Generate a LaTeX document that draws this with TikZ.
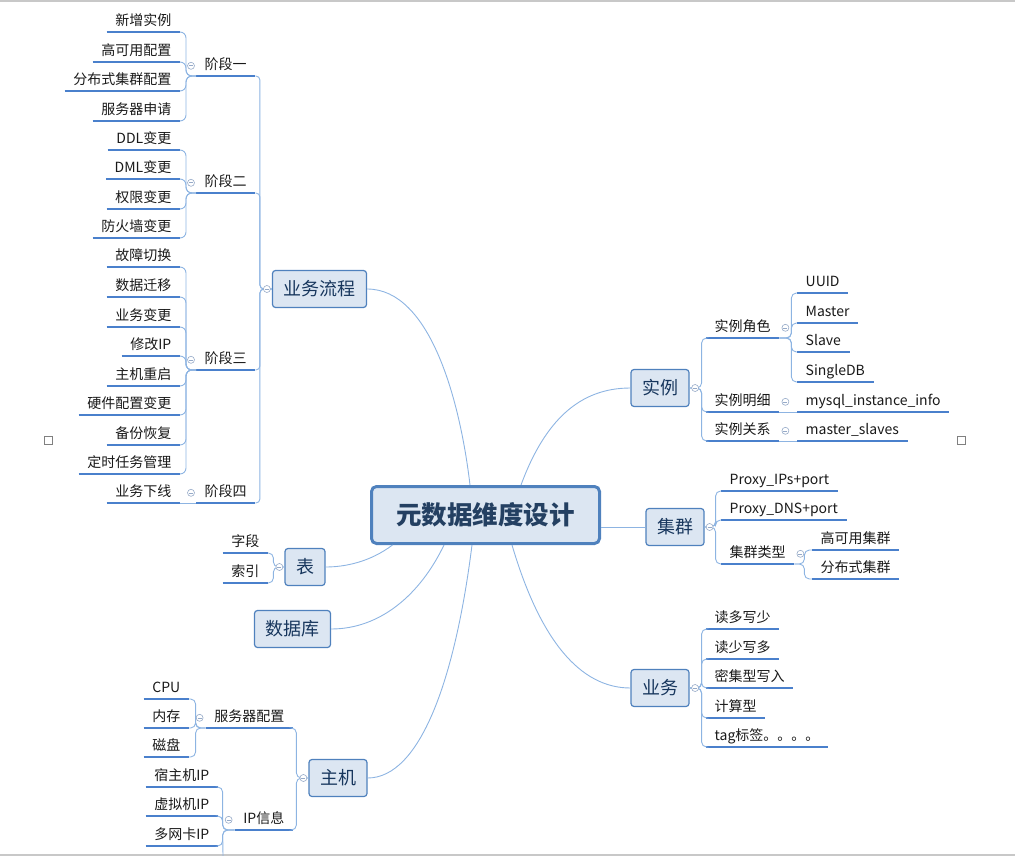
\documentclass[tikz,border=0pt]{standalone}
\usepackage{fontspec}
\setmainfont{Noto Sans CJK SC}
\usepackage{tikz}
\definecolor{color1}{RGB}{79, 129, 189}
\definecolor{color2}{RGB}{220, 230, 242}
\definecolor{color3}{RGB}{74, 128, 204}
\definecolor{color4}{RGB}{141, 180, 226}
\definecolor{color5}{RGB}{36, 64, 98}
\definecolor{color6}{RGB}{23, 54, 93}
\definecolor{color7}{RGB}{150, 170, 200}
\definecolor{color8}{RGB}{200, 200, 200}

\begin{document}
\begin{tikzpicture}[x=1pt, y=-1pt,
  root/.style={draw=color1, line width=3pt, fill=color2, rounded corners=5pt, minimum width=228pt, minimum height=57pt, text=color5, font=\bfseries\fontsize{25.5}{28}\selectfont},
  topic/.style={draw=color1, line width=1.2pt, fill=color2, rounded corners=3pt, minimum height=37pt, inner xsep=11pt, text=color6, font=\fontsize{18}{20}\selectfont},
  uline/.style={draw=color3, line width=2.4pt},
  leaf/.style={text=black!90, font=\fontsize{14}{16}\selectfont, text height=11pt, text depth=3pt, inner ysep=3pt, inner xsep=8.5pt, append after command={(\tikzlastnode.south west) edge[uline] (\tikzlastnode.south east)}},
  lleaf/.style={leaf, anchor=south east},
  rleaf/.style={leaf, anchor=south west},
  conn/.style={draw=color4, line width=0.9pt},
  fold/.style={circle, draw=color7, line width=0.6pt, fill=white, inner sep=0pt, minimum size=7pt, path picture={\draw[color7, line width=0.6pt] ([xshift=-2pt]path picture bounding box.center) -- ([xshift=2pt]path picture bounding box.center);}},
  mark box/.style={draw=gray, line width=0.6pt, inner sep=0pt, minimum size=8pt}]
\useasboundingbox (0,0) rectangle (1015,856);
\draw[color8, line width=2pt] (0,1.5) -- (1015,1.5);
\draw[color8, line width=1.5pt] (0,855) -- (1015,855);
\node[mark box] (markL) at (48,440) {};
\node[mark box] (markR) at (961,440) {};

% topics
\node[root] (root) at (485.5,515) {元数据维度设计};
\node[topic] (flow) at (319.5,289) {业务流程};
\node[topic] (inst) at (660,388) {实例};
\node[topic] (clus) at (675,527) {集群};
\node[topic] (svc) at (660,688) {业务};
\node[topic] (tbl) at (305,567) {表};
\node[topic] (db) at (292.5,629) {数据库};
\node[topic] (host) at (338,778) {主机};

\draw[conn] ([xshift=-15.5pt]root.north) .. controls (460,400) and (430,289) .. (flow.east);
\draw[conn] ([xshift=35.5pt]root.north) .. controls (545,420) and (580,388) .. (inst.west);
\draw[conn] (root.east |- clus.west) -- (clus.west);
\draw[conn] ([xshift=26.5pt]root.south) .. controls (540,640) and (580,688) .. (svc.west);
\draw[conn] ([xshift=-93pt]root.south) .. controls (370,562) and (345,567) .. (tbl.east);
\draw[conn] ([xshift=-41.5pt]root.south) .. controls (420,595) and (380,629) .. (db.east);
\draw[conn] ([xshift=-13.5pt]root.south) .. controls (455,680) and (420,778) .. (host.east);

% 业务流程
\node[rleaf] (st1) at (196,76) {阶段一};
\node[rleaf] (st2) at (196,193) {阶段二};
\node[rleaf] (st3) at (196,370) {阶段三};
\node[rleaf] (st4) at (196,503) {阶段四};
\node[lleaf] (a1) at (180,32) {新增实例};
\node[lleaf] (a2) at (180,62) {高可用配置};
\node[lleaf] (a3) at (180,91) {分布式集群配置};
\node[lleaf] (a4) at (180,121) {服务器申请};
\node[lleaf] (b1) at (180,150) {DDL变更};
\node[lleaf] (b2) at (180,179) {DML变更};
\node[lleaf] (b3) at (180,209) {权限变更};
\node[lleaf] (b4) at (180,238) {防火墙变更};
\node[lleaf] (c1) at (180,267) {故障切换};
\node[lleaf] (c2) at (180,297) {数据迁移};
\node[lleaf] (c3) at (180,327) {业务变更};
\node[lleaf] (c4) at (180,356) {修改IP};
\node[lleaf] (c5) at (180,386) {主机重启};
\node[lleaf] (c6) at (180,415) {硬件配置变更};
\node[lleaf] (c7) at (180,445) {备份恢复};
\node[lleaf] (c8) at (180,474) {定时任务管理};
\node[lleaf] (d1) at (180,503) {业务下线};
\foreach \n in {st1,st2,st3,st4}
  \draw[conn, rounded corners=4pt] (flow.west) -- ++(-12,0) |- (\n.south east);
\foreach \n in {a1,a2,a3,a4}
  \draw[conn, rounded corners=6pt] (st1.south west) -- ++(-10,0) |- (\n.south east);
\foreach \n in {b1,b2,b3,b4}
  \draw[conn, rounded corners=6pt] (st2.south west) -- ++(-10,0) |- (\n.south east);
\foreach \n in {c1,c2,c3,c4,c5,c6,c7,c8}
  \draw[conn, rounded corners=6pt] (st3.south west) -- ++(-10,0) |- (\n.south east);
\draw[conn] (st4.south west) -- (d1.south east);

% 表
\node[lleaf] (f1) at (268,553) {字段};
\node[lleaf] (f2) at (268,583) {索引};
\foreach \n in {f1,f2}
  \draw[conn, rounded corners=5pt] (tbl.west) -- ++(-11,0) |- (\n.south east);

% 主机
\node[lleaf] (hw) at (293,728) {服务器配置};
\node[lleaf] (ip) at (293,830) {IP信息};
\node[lleaf] (h1) at (189,699) {CPU};
\node[lleaf] (h2) at (189,728) {内存};
\node[lleaf] (h3) at (189,757) {磁盘};
\node[lleaf] (i1) at (218,787) {宿主机IP};
\node[lleaf] (i2) at (218,816) {虚拟机IP};
\node[lleaf] (i3) at (218,846) {多网卡IP};
\coordinate (cut) at (223,856);
\foreach \n in {hw,ip}
  \draw[conn, rounded corners=5pt] (host.west) -- ++(-12,0) |- (\n.south east);
\foreach \n in {h1,h2,h3}
  \draw[conn, rounded corners=5pt] (hw.south west) -- ++(-10,0) |- (\n.south east);
\foreach \n in {i1,i2,i3}
  \draw[conn, rounded corners=5pt] (ip.south west) -- ++(-12,0) |- (\n.south east);
\draw[conn, rounded corners=5pt] (ip.south west) -- ++(-12,0) -- (cut);

% 实例
\node[rleaf] (r1) at (706,338) {实例角色};
\node[rleaf] (r2) at (706,412) {实例明细};
\node[rleaf] (r3) at (706,441) {实例关系};
\node[rleaf] (u1) at (797,293) {UUID};
\node[rleaf] (u2) at (797,323) {Master};
\node[rleaf] (u3) at (797,352) {Slave};
\node[rleaf] (u4) at (797,382) {SingleDB};
\node[rleaf] (m1) at (797,412) {mysql\_instance\_info};
\node[rleaf] (m2) at (797,441) {master\_slaves};
\foreach \n in {r1,r2,r3}
  \draw[conn, rounded corners=5pt] (inst.east) -- ++(12,0) |- (\n.south west);
\foreach \n in {u1,u2,u3,u4}
  \draw[conn, rounded corners=5pt] (r1.south east) -- ++(12,0) |- (\n.south west);
\draw[conn] (r2.south east) -- (m1.south west);
\draw[conn] (r3.south east) -- (m2.south west);

% 集群
\node[rleaf] (p1) at (721,491) {Proxy\_IPs+port};
\node[rleaf] (p2) at (721,520) {Proxy\_DNS+port};
\node[rleaf] (p3) at (721,564) {集群类型};
\node[rleaf] (k1) at (812,550) {高可用集群};
\node[rleaf] (k2) at (812,579) {分布式集群};
\foreach \n in {p1,p2,p3}
  \draw[conn, rounded corners=5pt] (clus.east) -- ++(11,0) |- (\n.south west);
\foreach \n in {k1,k2}
  \draw[conn, rounded corners=5pt] (p3.south east) -- ++(10,0) |- (\n.south west);

% 业务
\node[rleaf] (w1) at (706,629) {读多写少};
\node[rleaf] (w2) at (706,659) {读少写多};
\node[rleaf] (w3) at (706,688) {密集型写入};
\node[rleaf] (w4) at (706,718) {计算型};
\node[rleaf] (w5) at (706,747) {tag标签。。。。};
\foreach \n in {w1,w2,w3,w4,w5}
  \draw[conn, rounded corners=5pt] (svc.east) -- ++(12,0) |- (\n.south west);

% fold marks
\node[fold] (fo1) at ([xshift=-5pt]flow.west) {};
\node[fold] (fo2) at ([xshift=-5pt]tbl.west) {};
\node[fold] (fo3) at ([xshift=-5pt]host.west) {};
\node[fold] (fo4) at ([xshift=5.5pt]inst.east) {};
\node[fold] (fo5) at ([xshift=5pt]clus.east) {};
\node[fold] (fo6) at ([xshift=5.5pt]svc.east) {};
\node[fold] (fo7) at ([xshift=-5pt]st1.west) {};
\node[fold] (fo8) at ([xshift=-5pt]st2.west) {};
\node[fold] (fo9) at ([xshift=-5pt]st3.west) {};
\node[fold] (fo10) at ([xshift=-5pt]st4.west) {};
\node[fold] (fo11) at ([xshift=-6pt]hw.west) {};
\node[fold] (fo12) at ([xshift=-6pt]ip.west) {};
\node[fold] (fo13) at ([xshift=6pt]r1.east) {};
\node[fold] (fo14) at ([xshift=6pt]r2.east) {};
\node[fold] (fo15) at ([xshift=6pt]r3.east) {};
\node[fold] (fo16) at ([xshift=6pt]p3.east) {};
\end{tikzpicture}
\end{document}
